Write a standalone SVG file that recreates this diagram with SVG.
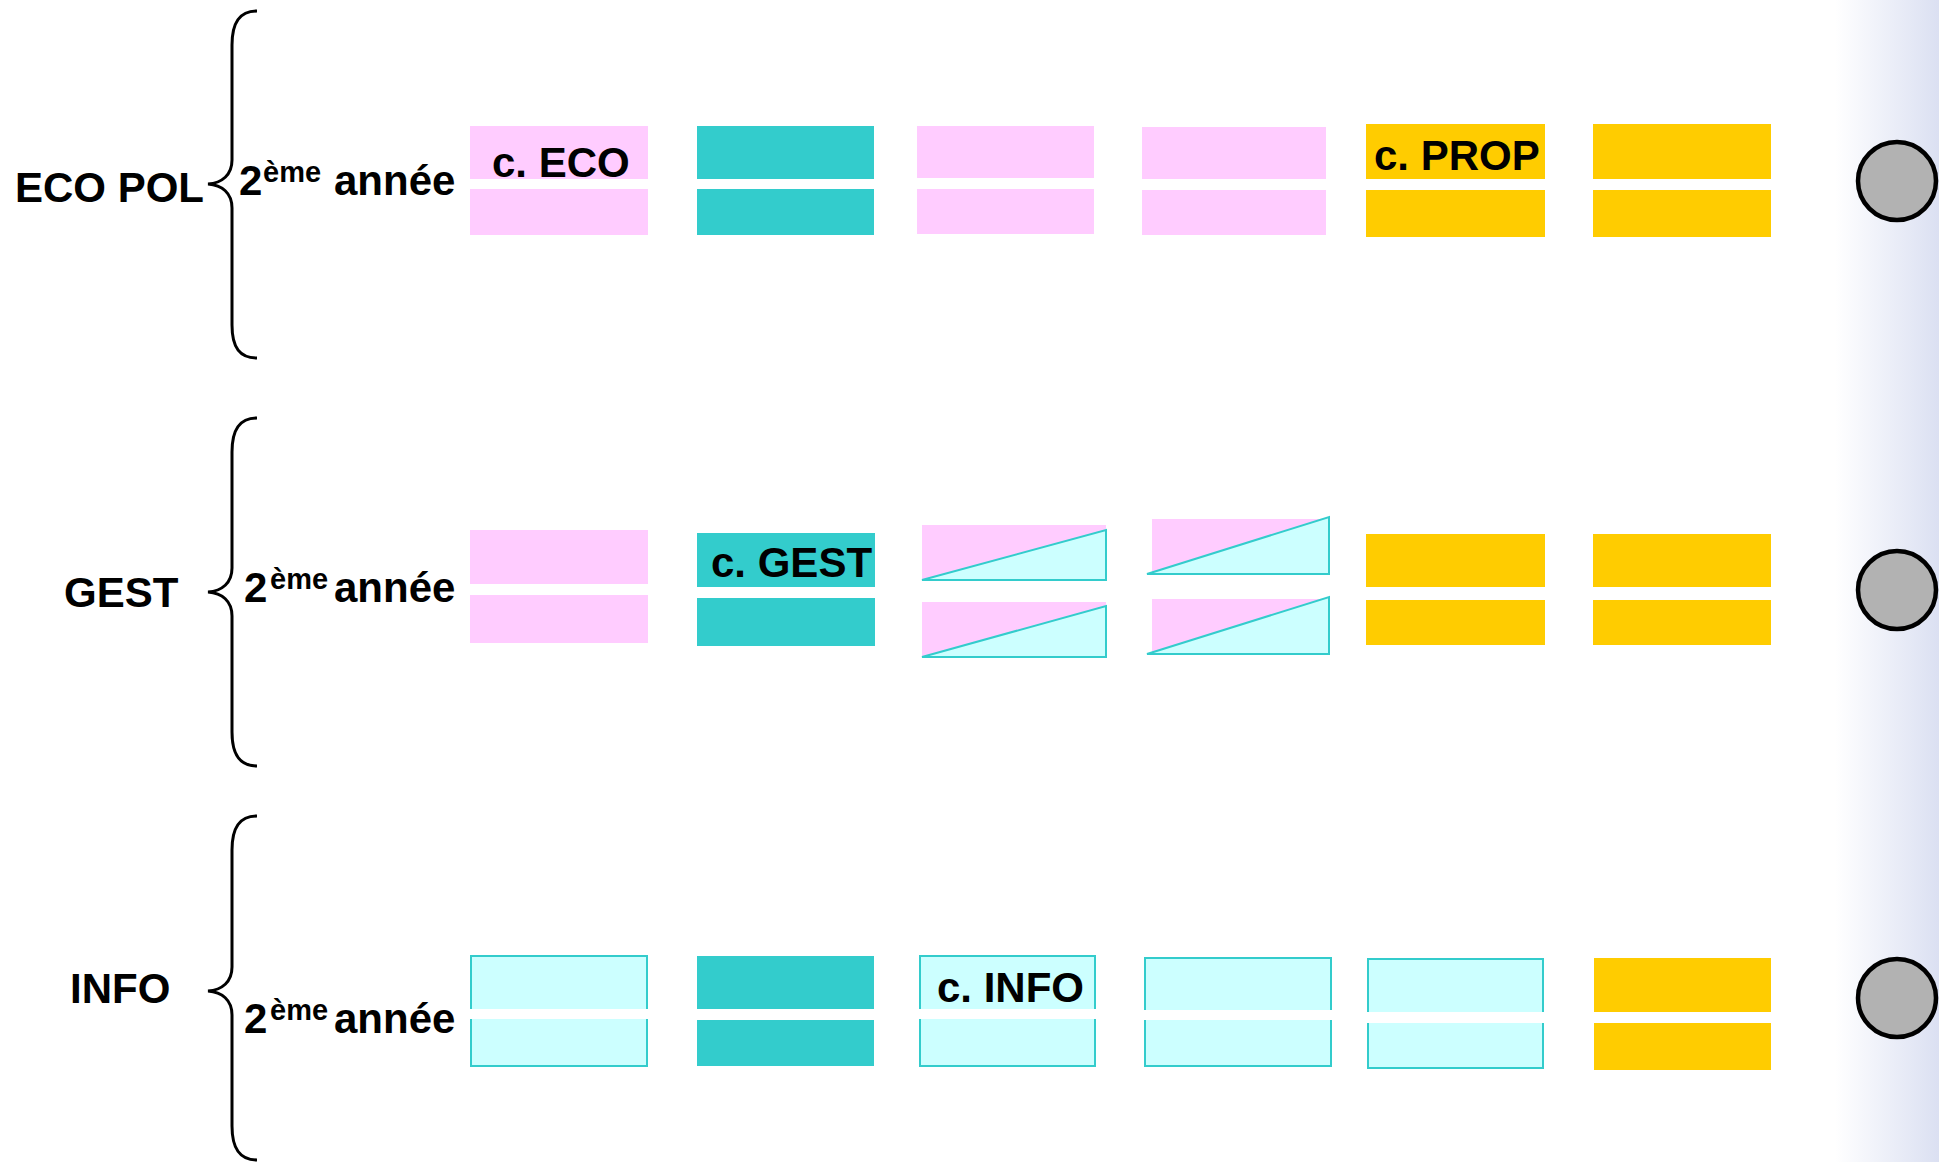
<svg xmlns="http://www.w3.org/2000/svg" width="1939" height="1162" viewBox="0 0 1939 1162">
  <defs>
    <linearGradient id="edge" x1="1835" y1="0" x2="1939" y2="0" gradientUnits="userSpaceOnUse">
      <stop offset="0" stop-color="#ffffff"/>
      <stop offset="1" stop-color="#dbe0f2"/>
    </linearGradient>
    <style>
      text { font-family: "Liberation Sans", Arial, sans-serif; font-weight: bold; font-size: 42px; fill: #000; }
      .sup { font-size: 29px; }
      .pink { fill: #ffccff; }
      .teal { fill: #33cccc; }
      .yel { fill: #ffcc00; }
      .cyan { fill: #ccffff; stroke: #33cccc; stroke-width: 2; }
      .tri { fill: #ccffff; stroke: #33cccc; stroke-width: 2; stroke-linejoin: miter; }
      .band { fill: #ffffff; }
      .brace { fill: none; stroke: #000; stroke-width: 3; }
      .dot { fill: #b2b2b2; stroke: #000; stroke-width: 4.5; }
    </style>
  </defs>
  <rect x="0" y="0" width="1939" height="1162" fill="#ffffff"/>
  <rect x="1835" y="0" width="104" height="1162" fill="url(#edge)"/>

  <g id="connectors">
    <path class="brace" d="M257,11 C240,11 232,22 232,45 L232,160 C232,175 222,183 208,184 C222,185 232,193 232,208 L232,325 C232,348 240,358 257,358"/>
    <path class="brace" d="M257,418 C240,418 232,429 232,452 L232,568 C232,583 222,591 208,592 C222,593 232,601 232,616 L232,732 C232,755 240,766 257,766"/>
    <path class="brace" d="M257,816 C240,816 232,827 232,850 L232,967 C232,982 222,990 208,991 C222,992 232,1000 232,1015 L232,1126 C232,1149 240,1160 257,1160"/>
  </g>

  <!-- Row 1: ECO POL -->
  <g id="label-ecopol"><text x="15" y="202">ECO POL</text></g>
  <g id="annee-1"><text x="239" y="195">2<tspan class="sup" x="263" dy="-13">ème</tspan><tspan x="334" dy="13">année</tspan></text></g>
  <g id="r1c1">
    <rect class="pink" x="470" y="126" width="178" height="53"/>
    <rect class="pink" x="470" y="189" width="178" height="46"/>
    <text x="492" y="177">c. ECO</text>
  </g>
  <g id="r1c2">
    <rect class="teal" x="697" y="126" width="177" height="53"/>
    <rect class="teal" x="697" y="189" width="177" height="46"/>
  </g>
  <g id="r1c3">
    <rect class="pink" x="917" y="126" width="177" height="52"/>
    <rect class="pink" x="917" y="189" width="177" height="45"/>
  </g>
  <g id="r1c4">
    <rect class="pink" x="1142" y="127" width="184" height="52"/>
    <rect class="pink" x="1142" y="190" width="184" height="45"/>
  </g>
  <g id="r1c5">
    <rect class="yel" x="1366" y="124" width="179" height="55"/>
    <rect class="yel" x="1366" y="190" width="179" height="47"/>
    <text x="1374" y="170">c. PROP</text>
  </g>
  <g id="r1c6">
    <rect class="yel" x="1593" y="124" width="178" height="55"/>
    <rect class="yel" x="1593" y="190" width="178" height="47"/>
  </g>
  <g id="dot-1"><circle class="dot" cx="1897" cy="181" r="39"/></g>

  <!-- Row 2: GEST -->
  <g id="label-gest"><text x="64" y="607">GEST</text></g>
  <g id="annee-2"><text x="244" y="602">2<tspan class="sup" x="270" dy="-13">ème</tspan><tspan x="334" dy="13">année</tspan></text></g>
  <g id="r2c1">
    <rect class="pink" x="470" y="530" width="178" height="54"/>
    <rect class="pink" x="470" y="595" width="178" height="48"/>
  </g>
  <g id="r2c2">
    <rect class="teal" x="697" y="533" width="178" height="54"/>
    <rect class="teal" x="697" y="598" width="178" height="48"/>
    <text x="711" y="577">c. GEST</text>
  </g>
  <g id="r2c3">
    <rect class="pink" x="922" y="525" width="184" height="55"/>
    <polygon class="tri" points="922,580 1106,530 1106,580"/>
    <rect class="pink" x="922" y="602" width="184" height="55"/>
    <polygon class="tri" points="922,657 1106,606 1106,657"/>
  </g>
  <g id="r2c4">
    <rect class="pink" x="1152" y="519" width="177" height="55"/>
    <polygon class="tri" points="1147,574 1329,517 1329,574"/>
    <rect class="pink" x="1152" y="599" width="177" height="55"/>
    <polygon class="tri" points="1147,654 1329,597 1329,654"/>
  </g>
  <g id="r2c5">
    <rect class="yel" x="1366" y="534" width="179" height="53"/>
    <rect class="yel" x="1366" y="600" width="179" height="45"/>
  </g>
  <g id="r2c6">
    <rect class="yel" x="1593" y="534" width="178" height="53"/>
    <rect class="yel" x="1593" y="600" width="178" height="45"/>
  </g>
  <g id="dot-2"><circle class="dot" cx="1897" cy="590" r="39"/></g>

  <!-- Row 3: INFO -->
  <g id="label-info"><text x="70" y="1003">INFO</text></g>
  <g id="annee-3"><text x="244" y="1033">2<tspan class="sup" x="270" dy="-13">ème</tspan><tspan x="334" dy="13">année</tspan></text></g>
  <g id="r3c1">
    <rect class="cyan" x="471" y="956" width="176" height="110"/>
    <rect class="band" x="468" y="1009" width="182" height="10"/>
  </g>
  <g id="r3c2">
    <rect class="teal" x="697" y="956" width="177" height="53"/>
    <rect class="teal" x="697" y="1020" width="177" height="46"/>
  </g>
  <g id="r3c3">
    <rect class="cyan" x="920" y="956" width="175" height="110"/>
    <rect class="band" x="917" y="1009" width="181" height="10"/>
    <text x="937" y="1002">c. INFO</text>
  </g>
  <g id="r3c4">
    <rect class="cyan" x="1145" y="958" width="186" height="108"/>
    <rect class="band" x="1142" y="1010" width="192" height="10"/>
  </g>
  <g id="r3c5">
    <rect class="cyan" x="1368" y="959" width="175" height="109"/>
    <rect class="band" x="1365" y="1012" width="181" height="11"/>
  </g>
  <g id="r3c6">
    <rect class="yel" x="1594" y="958" width="177" height="54"/>
    <rect class="yel" x="1594" y="1023" width="177" height="47"/>
  </g>
  <g id="dot-3"><circle class="dot" cx="1897" cy="998" r="39"/></g>
</svg>
